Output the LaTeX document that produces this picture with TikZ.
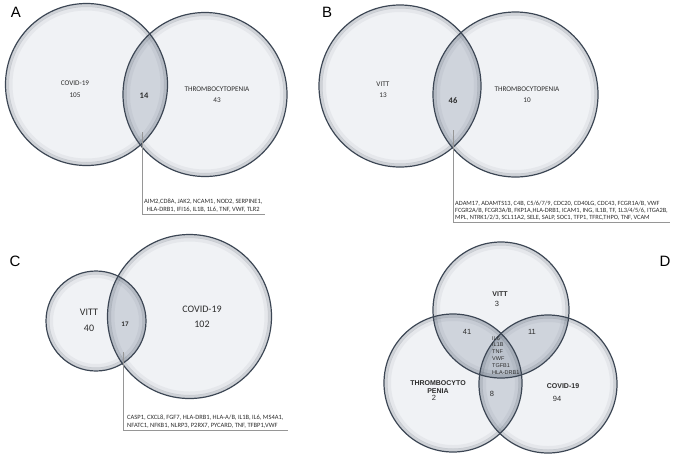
\documentclass[tikz,border=0pt]{standalone}
\usepackage{fontspec}
\setmainfont{Carlito}
\newfontfamily\arialfont{Liberation Sans}
\definecolor{setbg}{RGB}{240,242,245}
\definecolor{lens}{RGB}{207,212,220}
\definecolor{core}{RGB}{188,195,205}
\definecolor{rim}{RGB}{60,70,84}
\definecolor{callgray}{RGB}{150,150,150}
\definecolor{txt}{RGB}{45,45,45}
\usetikzlibrary{positioning}
\tikzset{
    rimline/.style={draw=rim,line width=1.2pt},
    glowline/.style={draw=rim,line width=3pt,opacity=0.18},
    softline/.style={draw=rim,line width=4pt,opacity=0.06},
    panel/.style={font=\arialfont\fontsize{15}{15}\selectfont,inner sep=0pt},
    lbl/.style={font=\fontsize{7.2}{9}\selectfont,text=txt,inner sep=0pt},
    biglbl/.style={font=\fontsize{10}{12}\selectfont,text=txt,inner sep=0pt},
    dlbl/.style={font=\arialfont\fontsize{7.5}{9}\selectfont,text=txt,inner sep=0pt},
    dbold/.style={font=\arialfont\bfseries\fontsize{7}{7.5}\selectfont,text=txt,inner sep=0pt},
    genes/.style={font=\fontsize{6.5}{8.8}\selectfont,text=txt,inner xsep=2pt,inner ysep=1pt},
    dgenes/.style={font=\arialfont\fontsize{5.5}{6.8}\selectfont,text=txt,inner sep=0pt,align=left},
    callout/.style={draw=callgray,line width=0.6pt}
}

\begin{document}
\begin{tikzpicture}[x=1pt,y=-1pt]
	\useasboundingbox[fill=white] (0,0) rectangle (677,456);

	% set circles
	\fill[setbg] (86.5,84.5) circle (81pt);
	\fill[setbg] (205,94.5) circle (82pt);
	\fill[setbg] (400,86) circle (81pt);
	\fill[setbg] (515.5,94.5) circle (82.5pt);
	\fill[setbg] (96,321) circle (50pt);
	\fill[setbg] (189.5,316.5) circle (82pt);
	\fill[setbg] (501,310) circle (68pt);
	\fill[setbg] (453,383) circle (69pt);
	\fill[setbg] (548,384) circle (69pt);

	% overlaps
	\begin{scope}
		\clip (86.5,84.5) circle (81pt);
		\fill[lens] (205,94.5) circle (82pt);
	\end{scope}
	\begin{scope}
		\clip (400,86) circle (81pt);
		\fill[lens] (515.5,94.5) circle (82.5pt);
	\end{scope}
	\begin{scope}
		\clip (96,321) circle (50pt);
		\fill[lens] (189.5,316.5) circle (82pt);
	\end{scope}
	\begin{scope}
		\clip (501,310) circle (68pt);
		\fill[lens] (453,383) circle (69pt);
		\fill[lens] (548,384) circle (69pt);
	\end{scope}
	\begin{scope}
		\clip (453,383) circle (69pt);
		\fill[lens] (548,384) circle (69pt);
	\end{scope}
	\begin{scope}
		\clip (501,310) circle (68pt);
		\clip (453,383) circle (69pt);
		\fill[core] (548,384) circle (69pt);
	\end{scope}

	% rims
	\draw[softline] (86.5,84.5) circle (76pt);
	\draw[softline] (205,94.5) circle (77pt);
	\draw[softline] (400,86) circle (76pt);
	\draw[softline] (515.5,94.5) circle (77.5pt);
	\draw[softline] (96,321) circle (45pt);
	\draw[softline] (189.5,316.5) circle (77pt);
	\draw[softline] (501,310) circle (63pt);
	\draw[softline] (453,383) circle (64pt);
	\draw[softline] (548,384) circle (64pt);

	\draw[glowline] (86.5,84.5) circle (79pt);
	\draw[glowline] (205,94.5) circle (80pt);
	\draw[glowline] (400,86) circle (79pt);
	\draw[glowline] (515.5,94.5) circle (80.5pt);
	\draw[glowline] (96,321) circle (48pt);
	\draw[glowline] (189.5,316.5) circle (80pt);
	\draw[glowline] (501,310) circle (66pt);
	\draw[glowline] (453,383) circle (67pt);
	\draw[glowline] (548,384) circle (67pt);

	\draw[rimline] (86.5,84.5) circle (81pt);
	\draw[rimline] (205,94.5) circle (82pt);
	\draw[rimline] (400,86) circle (81pt);
	\draw[rimline] (515.5,94.5) circle (82.5pt);
	\draw[rimline] (96,321) circle (50pt);
	\draw[rimline] (189.5,316.5) circle (82pt);
	\draw[rimline] (501,310) circle (68pt);
	\draw[rimline] (453,383) circle (69pt);
	\draw[rimline] (548,384) circle (69pt);

	% panel A
	\node[panel] (panA) at (16,12) {A};
	\node[lbl] (covA) at (75,83) {COVID-19};
	\node[lbl] (numcovA) at (75,95) {105};
	\node[lbl,font=\bfseries\fontsize{8.5}{9}\selectfont] (numA) at (144,96) {14};
	\node[lbl] (thrA) at (217,89) {THROMBOCYTOPENIA};
	\node[lbl] (numthrA) at (217,100) {43};
	\coordinate (tipA) at (142,132);
	\node[genes,anchor=south west,align=center] (genesA) at (142,214)
		{AIM2,CD8A, JAK2, NCAM1, NOD2, SERPINE1,\\HLA-DRB1, IFI16, IL1B, 1L6, TNF, VWF, TLR2};
	\draw[callout] (tipA) |- (genesA.south east);

	% panel B
	\node[panel] (panB) at (327,12) {B};
	\node[lbl] (vittB) at (383,84) {VITT};
	\node[lbl] (numvittB) at (383,95) {13};
	\node[lbl,font=\bfseries\fontsize{8.5}{9}\selectfont] (numB) at (453,101) {46};
	\node[lbl] (thrB) at (527,89) {THROMBOCYTOPENIA};
	\node[lbl] (numthrB) at (527,100) {10};
	\coordinate (tipB) at (453,130);
	\node[genes,font=\fontsize{6.4}{7.2}\selectfont,anchor=south west,align=left] (genesB) at (453,222)
		{ADAM17, ADAMTS13, C4B, C5/6/7/9, CDC20, CD40LG, CDC43, FCGR1A/B, VWF\\
		FCGR2A/B, FCGR3A/B, FKP1A,HLA-DRB1, ICAM1, ING, IL1B, TF, 1L3/4/5/6, ITGA2B,\\
		MPL, NTRK1/2/3, SCL11A2, SELE, SALP, SOC1, TFP1, TFRC,THPO, TNF, VCAM};
	\draw[callout] (tipB) |- (genesB.south east);

	% panel C
	\node[panel] (panC) at (15,261) {C};
	\node[biglbl] (vittC) at (89,312) {VITT};
	\node[biglbl] (numvittC) at (89,328) {40};
	\node[lbl,font=\bfseries\fontsize{7}{8}\selectfont] (numC) at (125,324) {17};
	\node[biglbl] (covC) at (202,309) {COVID-19};
	\node[biglbl] (numcovC) at (202,324) {102};
	\coordinate (tipC) at (123,352);
	\node[genes,inner xsep=4pt,anchor=south west,align=left] (genesC) at (123,430)
		{CASP1, CXCL8, FGF7, HLA-DRB1, HLA-A/B, IL1B, IL6, MS4A1,\\
		NFATC1, NFKB1, NLRP3, P2RX7, PYCARD, TNF, TFBP1,VWF};
	\draw[callout] (tipC) |- (genesC.south east);

	% panel D
	\node[panel] (panD) at (665,261) {D};
	\node[dbold] (vittD) at (500,294) {VITT};
	\node[dlbl] (numvittD) at (497,304) {3};
	\node[dlbl] (numVT) at (467,332) {41};
	\node[dlbl] (numVC) at (532,332) {11};
	\node[dgenes,anchor=north west] (genesD) at (492,336)
		{IL6\\IL1B\\TNF\\VWF\\TGFB1\\HLA-DRB1};
	\node[dbold,align=center] (thrD) at (438,387) {THROMBOCYTO\\PENIA};
	\node[dlbl] (numthrD) at (434,398) {2};
	\node[dlbl] (numTC) at (492,394) {8};
	\node[dbold] (covD) at (563,386) {COVID-19};
	\node[dlbl] (numcovD) at (557,399) {94};
\end{tikzpicture}
\end{document}
